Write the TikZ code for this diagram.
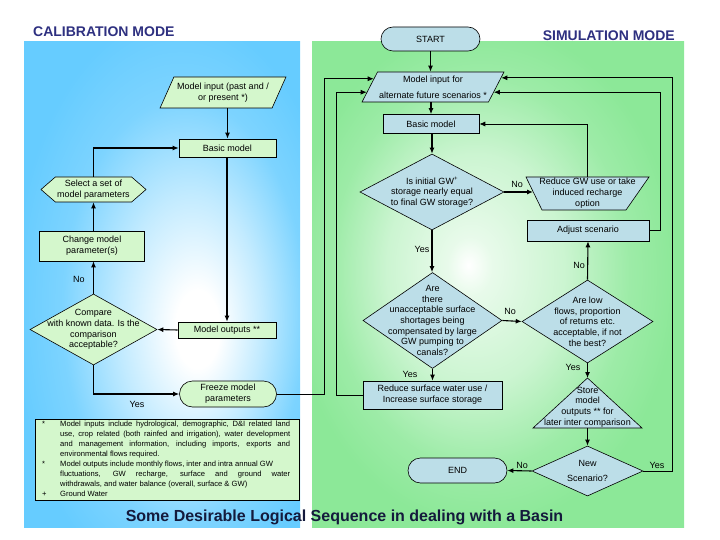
\documentclass[tikz,border=0pt]{standalone}
\usepackage{fontspec}
\setmainfont{Liberation Sans}
\usetikzlibrary{arrows.meta,shapes.geometric,shapes.symbols,calc}
\definecolor{panelblue}{RGB}{102,204,255}
\definecolor{panelgreen}{RGB}{140,232,152}
\definecolor{calfill}{RGB}{212,247,204}
\definecolor{simfill}{RGB}{188,222,232}
\definecolor{titlenavy}{RGB}{46,48,128}
\definecolor{basinnavy}{RGB}{20,26,60}
\pgfdeclareradialshading{bluepanelshade}{\pgfpoint{7bp}{-5bp}}{color(0bp)=(white); color(4bp)=(white); color(13bp)=(panelblue!40!white); color(22bp)=(panelblue!85!white); color(30bp)=(panelblue); color(50bp)=(panelblue)}
\pgfdeclareradialshading{greenpanelshade}{\pgfpoint{-4bp}{2bp}}{color(0bp)=(white); color(3bp)=(white!80!panelgreen); color(12bp)=(panelgreen!45!white); color(20bp)=(panelgreen!85!white); color(26bp)=(panelgreen); color(50bp)=(panelgreen)}
\begin{document}
\begin{tikzpicture}[x=1pt,y=-1pt,
  nf/.style={font=\fontsize{9}{10.7}\selectfont},
  calbox/.style={draw, fill=calfill, line width=0.6pt, nf, align=center, inner sep=1pt},
  simbox/.style={draw, fill=simfill, line width=0.6pt, nf, align=center, inner sep=1pt},
  lbl/.style={nf, inner sep=0pt},
  arr/.style={line width=1.1pt, -{Latex[length=6pt,width=5pt]}},
  loopline/.style={line width=0.8pt, -{Latex[length=6pt,width=5pt]}},
  modetitle/.style={font=\fontsize{14}{16}\selectfont\bfseries, text=titlenavy, inner sep=0pt},
  para/.style={trapezium, trapezium left angle=56, trapezium right angle=124, trapezium stretches=true, inner sep=0pt},
]
\useasboundingbox (0,0) rectangle (720,540);
\shade[shading=bluepanelshade] (24,42) rectangle (300,527);
\shade[shading=greenpanelshade] (312,42) rectangle (684,527);

% titles
\node[modetitle, anchor=west] (caltitle) at (33,32) {CALIBRATION MODE};
\node[modetitle, anchor=east] (simtitle) at (675,36) {SIMULATION MODE};
\node[font=\fontsize{16}{18}\selectfont\bfseries, text=basinnavy, inner sep=0pt] (basin) at (344.5,517) {Some Desirable Logical Sequence in dealing with a Basin};

% calibration mode
\node[calbox, para, minimum width=126pt, minimum height=31pt] (mi1) at (223,92.5) {Model input (past and /\\ or present *)};
\node[calbox, minimum width=97pt, minimum height=18pt] (bm1) at (227.5,148) {Basic model};
\node[calbox, signal, signal to=west and east, signal pointer angle=82, minimum width=105pt, minimum height=25pt] (sel) at (93.5,189.5) {Select a set of\\ model parameters};
\node[calbox, minimum width=105pt, minimum height=30pt] (chg) at (92,246) {Change model\\ parameter(s)};
\node[calbox, diamond, inner sep=0pt, minimum width=127pt, minimum height=71pt,
  label={[nf, align=center]center:{Compare\\ with known data. Is the\\ comparison\\ acceptable?}}] (cmp) at (93.5,329.5) {};
\node[calbox, minimum width=98pt, minimum height=16pt] (out1) at (227,330) {Model outputs **};
\node[calbox, rounded corners=13pt, minimum width=97pt, minimum height=26pt] (frz) at (228,394) {Freeze model\\ parameters};
\node[lbl] (no1) at (79,279) {No};
\node[lbl] (yes1) at (137,404) {Yes};

\node[draw, fill=calfill, line width=0.6pt, minimum width=264pt, minimum height=81pt, anchor=north west, inner sep=0pt] (notes) at (35,419) {};
\node[anchor=north west, inner sep=0pt, font=\fontsize{7.6}{10}\selectfont, align=left] (notetext) at (42,419.5) {%
\begin{tabular}{@{}p{18pt}@{}l@{}}
* & \makebox[230pt][s]{Model inputs include hydrological, demographic, D\&I related land}\\
  & \makebox[230pt][s]{use, crop related (both rainfed and irrigation), water development}\\
  & \makebox[230pt][s]{and management information, including imports, exports and}\\
  & environmental flows required.\\
** & Model outputs include monthly flows, inter and intra annual GW\\
  & \makebox[230pt][s]{fluctuations, GW recharge, surface and ground water}\\
  & withdrawals, and water balance (overall, surface \& GW)\\
+ & Ground Water
\end{tabular}};

\draw[arr] (bm1.north |- mi1.south) -- (bm1.north);
\draw[arr] (out1.north |- bm1.south) -- (out1.north);
\draw[arr] (out1.west) -- (cmp.east);
\draw[arr] (cmp.north) -- (cmp.north |- chg.south);
\draw[arr] (sel.south |- chg.north) -- (sel.south);
\draw[arr] (sel.north) |- (bm1.west);
\draw[arr] (cmp.south) |- (frz.west);

% simulation mode
\node[simbox, rounded corners=12pt, minimum width=99pt, minimum height=24pt] (start) at (430.5,39) {START};
\node[simbox, para, minimum width=142pt, minimum height=30pt] (mi2) at (433,87) {Model input for\\[5pt] alternate future scenarios *};
\node[simbox, minimum width=96pt, minimum height=19pt] (bm2) at (431,124) {Basic model};
\node[simbox, diamond, inner sep=0pt, minimum width=144pt, minimum height=76pt,
  label={[nf, align=center]center:{Is initial GW\textsuperscript{+}\\ storage nearly equal\\ to final GW storage?}}] (d1) at (432,192) {};
\coordinate (tTL) at (526,177);
\coordinate (tTR) at (649,177);
\coordinate (tBR) at (626,210);
\coordinate (tBL) at (542,210);
\coordinate (trapTop) at (587.5,177);
\coordinate (trapL) at (533,192);
\draw[fill=simfill, line width=0.6pt] (tTL) -- (tTR) -- (tBR) -- (tBL) -- cycle;
\node[nf, align=center, inner sep=0pt] (trap) at (587.5,193) {Reduce GW use or take\\ induced recharge\\ option};
\node[simbox, minimum width=122pt, minimum height=21pt] (adj) at (588,230.5) {Adjust scenario};
\node[simbox, diamond, inner sep=0pt, minimum width=139pt, minimum height=96pt,
  label={[nf, align=center]center:{Are\\ there\\ unacceptable surface\\ shortages being\\ compensated by large\\ GW pumping to\\ canals?}}] (d2) at (432.5,320.5) {};
\node[simbox, diamond, inner sep=0pt, minimum width=131pt, minimum height=83pt,
  label={[nf, align=center]center:{Are low\\ flows, proportion\\ of returns etc.\\ acceptable, if not\\ the best?}}] (d3) at (587.5,321.5) {};
\node[simbox, minimum width=139pt, minimum height=28pt] (red) at (432.5,395) {Reduce surface water use /\\ Increase surface storage};
\coordinate (stTop) at (587.5,378);
\coordinate (stBL) at (533,428);
\coordinate (stBR) at (642,428);
\coordinate (stBot) at (587.5,428);
\draw[fill=simfill, line width=0.6pt] (stTop) -- (stBR) -- (stBL) -- cycle;
\node[nf, align=center, inner sep=0pt] (store) at (587.5,407) {Store\\ model\\ outputs ** for\\ later inter comparison};
\node[simbox, diamond, inner sep=0pt, minimum width=111pt, minimum height=50pt,
  label={[nf, align=center]center:{New\\[5pt] Scenario?}}] (nsc) at (587.5,471) {};
\node[simbox, rounded corners=12.5pt, minimum width=99pt, minimum height=25pt] (endn) at (457.5,470.5) {END};

\node[lbl] (no2) at (517,184) {No};
\node[lbl] (yes2) at (422,249) {Yes};
\node[lbl] (no3) at (579,265) {No};
\node[lbl] (no4) at (510,311) {No};
\node[lbl] (yes3) at (410,374) {Yes};
\node[lbl] (yes4) at (573,367) {Yes};
\node[lbl] (no5) at (522,465) {No};
\node[lbl] (yes5) at (657,465) {Yes};

\coordinate (mi2L1) at ($(mi2.top left corner)!0.23!(mi2.bottom left corner)$);
\coordinate (mi2L2) at ($(mi2.top left corner)!0.67!(mi2.bottom left corner)$);
\coordinate (mi2R1) at ($(mi2.top right corner)!0.2!(mi2.bottom right corner)$);
\coordinate (mi2R2) at ($(mi2.top right corner)!0.67!(mi2.bottom right corner)$);

\draw[arr] (start.south) -- (start.south |- mi2.north);
\draw[arr] (bm2.north |- mi2.south) -- (bm2.north);
\draw[arr] (d1.north |- bm2.south) -- (d1.north);
\draw[arr] (d1.east) -- (trapL);
\draw[loopline] (trapTop) |- (bm2.east);
\draw[loopline] (adj.east) -- ++(11,0) |- (mi2R2);
\draw[arr] (d1.south) -- (d1.south |- d2.north);
\draw[arr] (d2.east) -- (d3.west);
\draw[arr] (d3.north) -- (adj.south);
\draw[arr] (d3.south) -- (stTop);
\draw[arr] (d2.south) -- (red.north);
\draw[arr] (stBot) -- (nsc.north);
\draw[arr] (nsc.west) -- (endn.east);
\draw[loopline] (nsc.east) -- ++(29,0) |- (mi2R1);
\draw[loopline] (frz.east) -- ++(47.5,0) |- (mi2L1);
\draw[loopline] (red.west) -- ++(-26,0) |- (mi2L2);
\end{tikzpicture}
\end{document}
